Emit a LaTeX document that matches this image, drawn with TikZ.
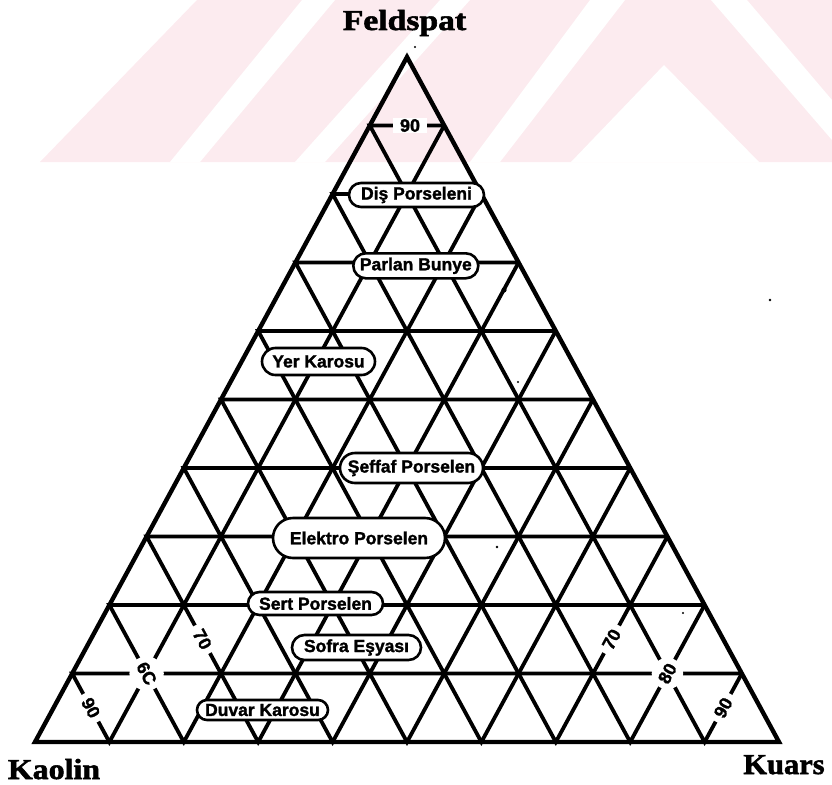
\documentclass[tikz,border=0pt]{standalone}
\usepackage{fontspec}
\setmainfont{Liberation Serif}
\newfontfamily\labfont[FakeBold=1.6]{Liberation Sans Bold}
\newfontfamily\vfont[FakeBold=1.8]{Liberation Serif Bold}
\usetikzlibrary{calc}
\definecolor{wm}{RGB}{252,235,239}
\begin{document}
\begin{tikzpicture}[x=1pt,y=-1pt,
  gridline/.style={line width=3.8pt, line join=miter},
  edgeline/.style={line width=4.4pt, line join=miter},
  vlab/.style={inner sep=0pt, anchor=base, font=\vfont\fontsize{29}{29}\selectfont},
  tag/.style={draw, line width=2.6pt, fill=white, inner sep=0pt,
    font=\labfont\fontsize{17.5}{17.5}\selectfont},
  num/.style={fill=white, inner xsep=7pt, inner ysep=1pt,
    font=\labfont\fontsize{18}{18}\selectfont},
  numc/.style={fill=white, circle, inner sep=0pt, minimum size=29pt,
    font=\labfont\fontsize{18}{18}\selectfont},
  speck/.style={fill=black}]
\useasboundingbox (0,0) rectangle (832,784);
% watermark
\fill[wm] (40,162) -- (197,0) -- (832,0) -- (832,162) -- cycle;
\fill[white] (170,162) -- (302,0) -- (335,0) -- (200,162) -- cycle;
\fill[white] (295,162) -- (440,0) -- (470,0) -- (325,162) -- cycle;
\fill[white] (470,162) -- (590,0) -- (625,0) -- (500,162) -- cycle;
\fill[white] (571,162) -- (664,65) -- (759,162) -- cycle;
\fill[white] (711,0) -- (747,0) -- (832,100) -- (832,140) -- cycle;
% vertices
\coordinate (A) at (35,742);
\coordinate (B) at (779,742);
\coordinate (C) at (407,57);
% grid
\foreach \i in {1,...,9} {
  \pgfmathsetmacro\s{\i/10}
  \pgfmathsetmacro\r{1-\i/10}
  \draw[gridline] ($(B)!\s!(C)$) -- ($(A)!\s!(C)$) -- ($(A)!\s!(B)$) -- ($(B)!\r!(C)$);
}
\draw[edgeline] (A) -- (B) -- (C) -- cycle;
% scale numbers
\node[num] (n90t) at (410,125.5) {90};
\node[numc] (n90l) at (90.8,707.8) {\rotatebox{-61.5}{90}};
\node[numc] (n80l) at (146.6,673.5) {\rotatebox{-61.5}{6C}};
\node[numc] (n70l) at (202.4,639.3) {\rotatebox{-61.5}{70}};
\node[numc] (n70r) at (611.6,639.3) {\rotatebox{61.5}{70}};
\node[numc] (n80r) at (667.4,673.5) {\rotatebox{61.5}{80}};
\node[numc] (n90r) at (723.2,707.8) {\rotatebox{61.5}{90}};
% product fields
\node[tag, minimum width=135pt, minimum height=24pt, rounded corners=12pt] (dis) at (416.5,195) {Diş Porseleni};
\node[tag, minimum width=125pt, minimum height=25pt, rounded corners=12.5pt] (par) at (415.8,265.8) {Parlan Bunye};
\node[tag, minimum width=113pt, minimum height=27pt, rounded corners=13.5pt] (yer) at (318.5,361.5) {Yer Karosu};
\node[tag, minimum width=143pt, minimum height=30pt, rounded corners=15pt] (sef) at (411.5,468) {Şeffaf Porselen};
\node[tag, minimum width=172pt, minimum height=40pt, rounded corners=20pt] (ele) at (359,538) {Elektro Porselen};
\node[tag, minimum width=135pt, minimum height=23pt, rounded corners=11.5pt] (ser) at (315.5,603.5) {Sert Porselen};
\node[tag, minimum width=129pt, minimum height=25pt, rounded corners=12.5pt] (sof) at (356.5,647.5) {Sofra Eşyası};
\node[tag, minimum width=131pt, minimum height=20pt, rounded corners=10pt] (duv) at (262.5,710) {Duvar Karosu};
% corner names
\node[vlab] (feld) at (404.5,30) {\scalebox{1.16}[1]{Feldspat}};
\node[vlab] (kao) at (54,779) {\scalebox{1.1}[1]{Kaolin}};
\node[vlab] (kua) at (784,774) {\scalebox{1.05}[1]{Kuars}};
% scan specks
\fill[speck] (415,47) circle (1.2);
\fill[speck] (770,300) circle (1.4);
\fill[speck] (504,290) circle (2.6);
\fill[speck] (518,382) circle (1.2);
\fill[speck] (497,547) circle (1.3);
\fill[speck] (683,613) circle (1.2);
\end{tikzpicture}
\end{document}
